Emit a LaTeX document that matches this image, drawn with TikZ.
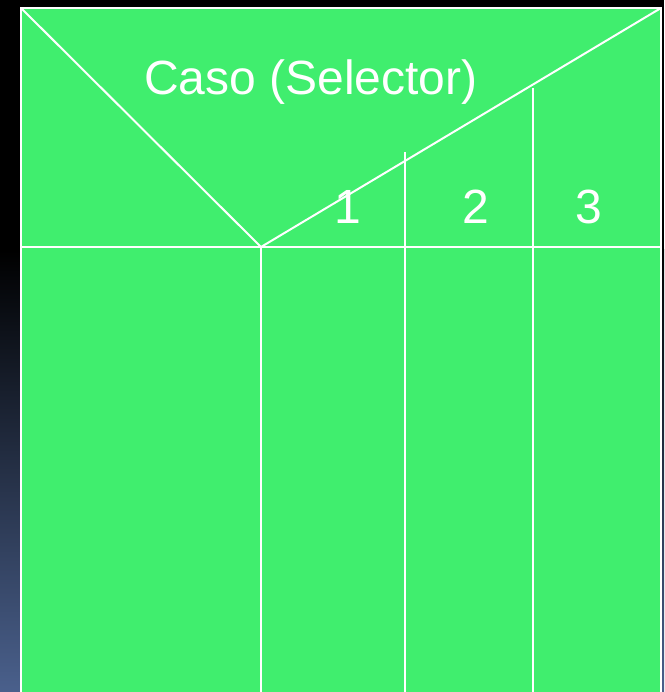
\documentclass[tikz,border=0pt]{standalone}
\usepackage{fontspec}
\setmainfont{Liberation Sans}
\definecolor{boxgreen}{RGB}{64,238,110}
\definecolor{bgblue}{RGB}{74,96,140}
\tikzset{
  gridline/.style={draw=white, line width=2pt},
  label/.style={text=white, font=\fontsize{48}{48}\selectfont, inner sep=0pt, anchor=base}
}
\begin{document}
\begin{tikzpicture}[x=1pt,y=-1pt]
\useasboundingbox (0,0) rectangle (664,692);
% background
\fill[black] (0,0) rectangle (664,692);
\shade[top color=black, bottom color=bgblue, shading angle=0] (0,250) rectangle (664,692);
% green box
\coordinate (tl) at (21,8);
\coordinate (tr) at (661,8);
\coordinate (bl) at (21,700);
\coordinate (br) at (661,700);
\coordinate (v) at (261,247);
\coordinate (hl) at (21,247);
\coordinate (hr) at (661,247);
\fill[boxgreen] (tl) rectangle (br);
\draw[gridline] (bl) -- (tl) -- (tr) -- (br);
\draw[gridline] (tl) -- (v) -- (tr);
\draw[gridline] (hl) -- (hr);
\coordinate (v1t) at (261,247);
\coordinate (v1b) at (261,700);
\coordinate (v2t) at (405,152);
\coordinate (v2b) at (405,700);
\coordinate (v3t) at (533,88);
\coordinate (v3b) at (533,700);
\draw[gridline] (v1t) -- (v1b);
\draw[gridline] (v2t) -- (v2b);
\draw[gridline] (v3t) -- (v3b);
% texts
\node[label] (title) at (311,95) {Caso (Selector)};
\node[label] (n1) at (348,224) {1};
\node[label] (n2) at (476,224) {2};
\node[label] (n3) at (589,224) {3};
\end{tikzpicture}
\end{document}
